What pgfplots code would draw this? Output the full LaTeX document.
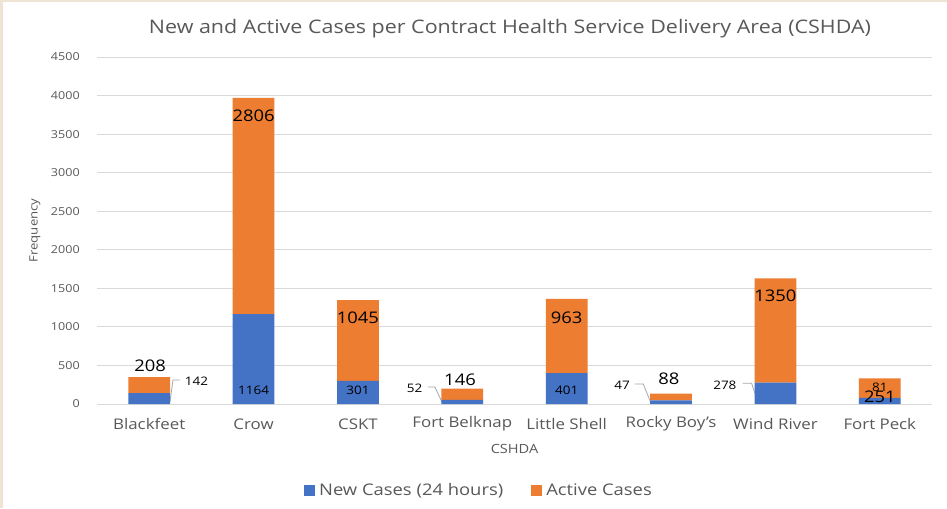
\documentclass[border=0pt]{standalone}
\usepackage{fontspec}
\setmainfont{Open Sans}[FakeStretch=1.15]
\usepackage{pgfplots}
\pgfplotsset{compat=1.18}
\definecolor{barblue}{HTML}{4472C4}
\definecolor{barorange}{HTML}{ED7D31}
\definecolor{gridgray}{HTML}{D9D9D9}
\definecolor{txtgray}{HTML}{595959}
\definecolor{bgbeige}{HTML}{EFE3D3}
\definecolor{leadgray}{HTML}{A6A6A6}
\tikzset{
  smalllab/.style={font=\fontsize{8.8}{10}\selectfont, text=black, inner sep=0pt},
  biglab/.style={font=\fontsize{12}{14}\selectfont, text=black, inner sep=0pt},
  leadline/.style={leadgray, line width=0.6pt},
}
\begin{document}
\begin{tikzpicture}
\fill[bgbeige] (-72.75pt,-78pt) rectangle (637.5pt,303pt);
\fill[white] (-70.5pt,-78pt) rectangle (637.5pt,301.5pt);
\path[use as bounding box] (-72.75pt,-78pt) rectangle (637.5pt,303pt);
\begin{axis}[
  at={(0,0)}, anchor=south west,
  scale only axis, width=626.25pt, height=260.25pt,
  ybar stacked, bar width=0.4,
  xmin=-0.5, xmax=7.5, ymin=0, ymax=4500,
  xtick={0,1,2,3,4,5,6,7},
  xticklabels={Blackfeet,Crow,CSKT,Fort Belknap,Little Shell,Rocky Boy's,Wind River,Fort Peck},
  ytick={0,500,1000,1500,2000,2500,3000,3500,4000,4500},
  ymajorgrids, grid style={gridgray, line width=0.75pt},
  axis line style={draw=none},
  major tick length=0pt,
  /pgf/number format/assume math mode=true,
  /pgf/number format/1000 sep={},
  yticklabel style={font=\fontsize{8.2}{10}\selectfont, text=txtgray, anchor=east, inner sep=0pt, xshift=-12.75pt},
  xticklabel style={font=\fontsize{11}{13}\selectfont, text=txtgray, anchor=center, yshift=-15pt},
  title={New and Active Cases per Contract Health Service Delivery Area (CSHDA)},
  title style={font=\fontsize{14}{16}\selectfont, text=txtgray, at={(rel axis cs:0.4946,1)}, anchor=center, yshift=15pt},
  xlabel={CSHDA},
  xlabel style={font=\fontsize{9.5}{11}\selectfont, text=txtgray, at={(rel axis cs:0.5,0)}, anchor=center, yshift=-33.75pt},
  ylabel={Frequency},
  ylabel style={font=\fontsize{8.6}{10}\selectfont, text=txtgray, at={(rel axis cs:0,0.5)}, anchor=center, yshift=46.5pt},
  legend columns=2,
  legend style={at={(0.4587,-0.25)}, anchor=center, draw=none, fill=none,
    font=\fontsize{12}{14}\selectfont, text=txtgray,
    /tikz/every even column/.append style={column sep=18pt},
    /tikz/every odd column/.append style={column sep=0pt},
    nodes={inner xsep=3pt}},
  legend image code/.code={\fill[#1] (0cm,-0.13cm) rectangle (0.29cm,0.16cm);},
]
\addplot[fill=barblue, draw=none] coordinates {(0,142) (1,1164) (2,301) (3,52) (4,401) (5,47) (6,278) (7,81)};
\addplot[fill=barorange, draw=none] coordinates {(0,208) (1,2806) (2,1045) (3,146) (4,963) (5,88) (6,1350) (7,251)};
\legend{New Cases (24 hours), Active Cases}
\draw[leadline] (axis cs:0.295,311) -- (axis cs:0.228,311) -- (axis cs:0.199,26);
\draw[leadline] (axis cs:2.671,220) -- (axis cs:2.738,220) -- (axis cs:2.805,26);
\draw[leadline] (axis cs:4.654,259) -- (axis cs:4.734,259) -- (axis cs:4.798,43);
\draw[leadline] (axis cs:5.686,268) -- (axis cs:5.772,268) -- (axis cs:5.804,139);
\coordinate (s1) at (axis cs:0.34,298);
\coordinate (s2) at (axis cs:1,172);
\coordinate (s3) at (axis cs:2,172);
\coordinate (s4) at (axis cs:2.62,207);
\coordinate (s5) at (axis cs:4,172);
\coordinate (s6) at (axis cs:4.607,246);
\coordinate (s7) at (axis cs:5.629,246);
\coordinate (s8) at (axis cs:7,210);
\coordinate (b1) at (axis cs:0.01,493);
\coordinate (b2) at (axis cs:1,3738);
\coordinate (b3) at (axis cs:2,1115);
\coordinate (b4) at (axis cs:2.978,320);
\coordinate (b5) at (axis cs:4,1115);
\coordinate (b6) at (axis cs:4.98,333);
\coordinate (b7) at (axis cs:6,1400);
\coordinate (b8) at (axis cs:7,95);
\end{axis}
\node[smalllab, anchor=west] at (s1) {142};
\node[smalllab] at (s2) {1164};
\node[smalllab] at (s3) {301};
\node[smalllab, anchor=east] at (s4) {52};
\node[smalllab] at (s5) {401};
\node[smalllab, anchor=east] at (s6) {47};
\node[smalllab, anchor=east] at (s7) {278};
\node[smalllab] at (s8) {81};
\node[biglab] at (b1) {208};
\node[biglab] at (b2) {2806};
\node[biglab] at (b3) {1045};
\node[biglab] at (b4) {146};
\node[biglab] at (b5) {963};
\node[biglab] at (b6) {88};
\node[biglab] at (b7) {1350};
\node[biglab] at (b8) {251};
\end{tikzpicture}
\end{document}
